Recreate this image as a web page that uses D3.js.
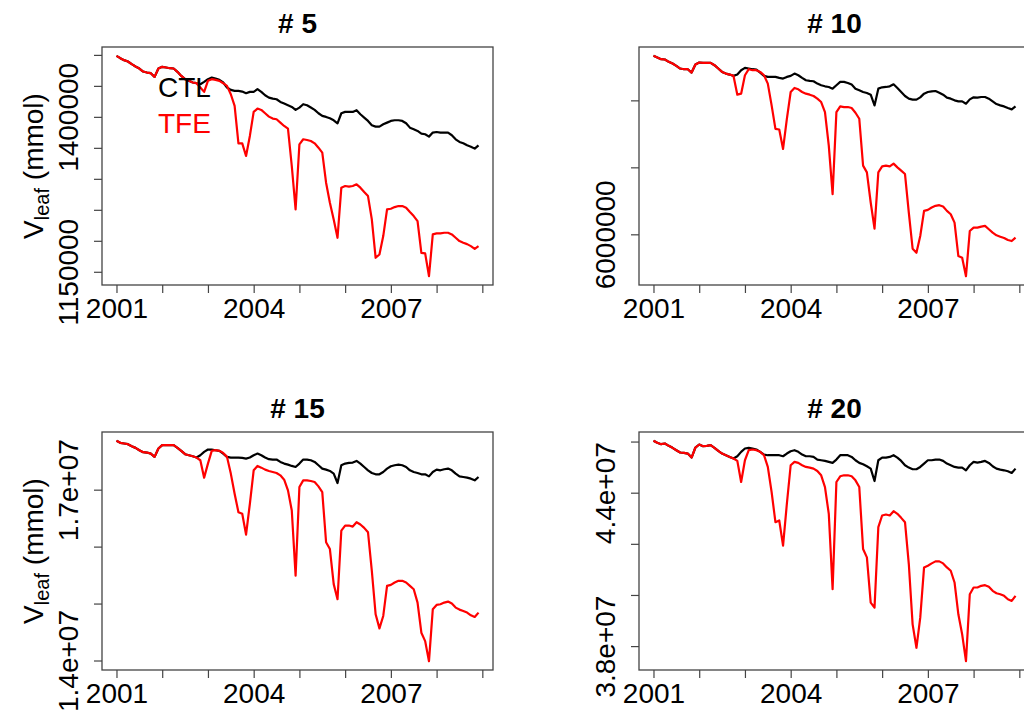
<!DOCTYPE html>
<html>
<head>
<meta charset="utf-8">
<script src="https://cdn.jsdelivr.net/npm/d3@7"></script>
<style>
  body { margin: 0; background: #fff; }
  svg { display: block; font-family: "Liberation Sans", Arial, Helvetica, sans-serif; }
</style>
</head>
<body>
<svg id="chart" width="1024" height="720"></svg>
<script>
// monthly values, Jan 2001 .. Dec 2008
const months = d3.range(96);
const xTicks = [2001, 2002, 2003, 2004, 2005, 2006, 2007, 2008, 2009];
const xTickText = [2001, 2004, 2007];

// # 5  (values in 1e3 mmol)
const early5 = [1498.5,1494.7,1491.5,1489.3,1485.0,1481.2,1478.0,1473.1,1471.5,1470.5,1464.5,1478.0,1480.7,1479.6,1478.5,1478.0,1472.6,1466.1,1460.8,1458.1,1455.4,1454.3];
const ctl5 = early5.concat([1452.7,1456.4,1460.8,1463.4,1461.8,1459.7,1455.4,1447.3,1443.5,1441.9,1441.9,1440.8,1438.1,1440.3,1440.3,1444.6,1440.3,1434.9,1431.1,1429.5,1428.4,1424.1,1421.4,1418.7,1416.0,1411.2,1415.0,1420.4,1418.7,1415.0,1411.2,1405.8,1401.5,1399.9,1397.7,1394.5,1389.6,1405.8,1408.0,1408.0,1408.0,1410.7,1404.2,1398.8,1393.4,1386.4,1384.3,1384.3,1388.0,1390.7,1393.4,1394.5,1394.5,1393.4,1389.6,1382.6,1380.0,1377.3,1373.0,1371.9,1368.1,1374.6,1375.6,1374.6,1374.6,1374.6,1370.3,1363.8,1359.5,1357.3,1354.1,1351.9,1348.7,1354.1]);
const tfe5 = early5.concat([1447.3,1440.3,1458.1,1460.8,1459.7,1458.1,1454.3,1450.0,1436.5,1417.7,1357.3,1357.3,1336.9,1369.2,1408.0,1413.4,1411.2,1405.8,1400.4,1397.2,1396.1,1390.7,1385.3,1381.0,1320.7,1250.7,1355.7,1363.8,1362.7,1361.1,1357.3,1350.3,1342.2,1293.8,1261.4,1234.5,1204.9,1285.7,1288.4,1287.3,1288.4,1291.1,1285.7,1278.7,1272.2,1234.5,1172.6,1177.9,1207.6,1250.7,1251.7,1254.4,1256.1,1256.1,1253.4,1246.4,1239.9,1231.8,1180.6,1179.6,1142.9,1210.3,1211.9,1211.9,1213.0,1213.0,1210.3,1204.9,1199.5,1196.8,1194.6,1191.4,1187.1,1191.4]);
const yTicks5 = [1150000,1200000,1250000,1300000,1350000,1400000,1450000,1500000];
const yTickAt5 = [1150000, 1400000];
const yTickText5 = ['1150000', '1400000'];

// # 10  (values in 1e3 mmol)
const early10 = [7332.5,7320,7307.5,7305,7287.5,7275,7257.5,7237.5,7232.5,7232.5,7207.5,7267.5,7282.5,7280,7280,7280,7262.5,7237.5,7212.5,7200,7192.5,7182.5];
const ctl10 = early10.concat([7192.5,7225,7242.5,7237.5,7232.5,7230,7207.5,7182.5,7175,7175,7175,7167.5,7162.5,7175,7182.5,7200,7187.5,7167.5,7150,7145,7142.5,7125,7112.5,7105,7100,7087.5,7112.5,7137.5,7137.5,7130,7117.5,7087.5,7075,7062.5,7055,7042.5,6962.5,7087.5,7097.5,7100,7105,7120,7092.5,7062.5,7032.5,7012.5,7005,7005,7022.5,7050,7062.5,7067.5,7070,7057.5,7042.5,7020,7012.5,7000,6992.5,6992.5,6975,7007.5,7022.5,7020,7025,7025,7012.5,6992.5,6972.5,6962.5,6955,6942.5,6932.5,6955]);
const tfe10 = early10.concat([7042.5,7050,7187.5,7232.5,7225,7225,7212.5,7187.5,7125,6962.5,6787.5,6782.5,6637.5,6862.5,7062.5,7092.5,7082.5,7062.5,7050,7042.5,7032.5,7012.5,6987.5,6912.5,6662.5,6300,6912.5,6955,6950,6950,6942.5,6907.5,6862.5,6512.5,6462.5,6237.5,6042.5,6462.5,6507.5,6512.5,6507.5,6527.5,6500,6475,6450,6162.5,5892.5,5862.5,5987.5,6175,6182.5,6200,6212.5,6217.5,6207.5,6175,6150,6087.5,5837.5,5825,5687.5,6025,6050,6050,6057.5,6062.5,6037.5,6012.5,5992.5,5982.5,5972.5,5957.5,5950,5975]);
const yTicks10 = [6000000, 6500000, 7000000];
const yTickAt10 = [6000000];
const yTickText10 = ['6000000'];

// # 15  (values in 1e6 mmol)
const early15 = [17.858,17.823,17.811,17.799,17.764,17.734,17.693,17.658,17.652,17.634,17.576,17.723,17.782,17.782,17.782,17.782,17.734,17.682,17.623,17.605,17.587,17.564];
const ctl15 = early15.concat([17.605,17.664,17.705,17.705,17.693,17.682,17.634,17.576,17.564,17.564,17.564,17.558,17.546,17.564,17.605,17.634,17.605,17.564,17.535,17.529,17.529,17.487,17.458,17.440,17.417,17.399,17.458,17.529,17.529,17.517,17.487,17.429,17.370,17.352,17.329,17.282,17.117,17.429,17.458,17.470,17.476,17.505,17.458,17.399,17.340,17.293,17.270,17.270,17.311,17.370,17.411,17.429,17.440,17.429,17.399,17.340,17.311,17.293,17.270,17.270,17.234,17.311,17.352,17.340,17.358,17.370,17.340,17.282,17.234,17.223,17.211,17.193,17.164,17.223]);
const tfe15 = early15.concat([17.517,17.211,17.458,17.682,17.693,17.682,17.646,17.576,17.282,16.929,16.605,16.576,16.211,16.752,17.340,17.417,17.387,17.352,17.329,17.311,17.293,17.252,17.176,16.988,16.635,15.488,17.046,17.164,17.164,17.152,17.135,17.058,16.958,16.076,15.958,15.341,15.076,16.282,16.370,16.370,16.352,16.429,16.388,16.329,16.252,15.576,14.811,14.564,14.782,15.311,15.329,15.370,15.399,15.399,15.370,15.311,15.252,15.017,14.488,14.341,13.988,14.899,14.976,14.988,15.017,15.035,15.000,14.929,14.894,14.870,14.841,14.794,14.764,14.841]);
const yTicks15 = [1.4e7, 1.5e7, 1.6e7, 1.7e7];
const yTickAt15 = [1.4e7, 1.7e7];
const yTickText15 = ['1.4e+07', '1.7e+07'];

// # 20  (values in 1e6 mmol)
const early20 = [46.029,45.950,45.898,45.924,45.833,45.754,45.662,45.571,45.557,45.531,45.374,45.767,45.885,45.819,45.833,45.859,45.754,45.636,45.531,45.466,45.400,45.335];
const ctl20 = early20.concat([45.426,45.597,45.728,45.754,45.728,45.688,45.597,45.492,45.466,45.466,45.466,45.466,45.426,45.531,45.623,45.662,45.597,45.492,45.426,45.426,45.400,45.295,45.269,45.243,45.204,45.165,45.295,45.466,45.466,45.466,45.400,45.269,45.165,45.112,45.034,44.942,44.457,45.269,45.374,45.374,45.400,45.466,45.374,45.243,45.073,44.981,44.916,44.916,45.007,45.138,45.269,45.269,45.295,45.295,45.243,45.138,45.073,45.007,44.981,44.981,44.876,45.073,45.204,45.178,45.204,45.243,45.165,45.034,44.942,44.903,44.876,44.837,44.772,44.942]);
const tfe20 = early20.concat([45.243,44.418,45.269,45.662,45.688,45.662,45.597,45.466,45.007,44.025,42.846,42.912,41.929,43.567,45.073,45.204,45.165,45.073,45.007,44.981,44.942,44.850,44.680,44.221,43.174,40.227,44.418,44.641,44.680,44.680,44.641,44.483,44.221,41.798,41.471,39.703,39.506,42.650,43.108,43.147,43.108,43.278,43.174,43.016,42.846,41.209,38.851,37.934,39.113,41.078,41.143,41.235,41.314,41.314,41.235,41.078,40.947,40.488,39.244,38.458,37.410,40.030,40.292,40.292,40.358,40.384,40.318,40.161,40.069,40.030,39.965,39.834,39.768,39.965]);
const yTicks20 = [3.8e7, 4.0e7, 4.2e7, 4.4e7, 4.6e7];
const yTickAt20 = [3.8e7, 4.4e7];
const yTickText20 = ['3.8e+07', '4.4e+07'];

const legendNames = ['CTL', 'TFE'];
const seriesColors = ['#000000', '#ff0000'];

const panels = [
  {title: '# 5',  ctl: ctl5,  tfe: tfe5,  unit: 1e3, ticks: yTicks5,  at: yTickAt5,  text: yTickText5,  left: 102, top: 47,  ylab: true,  legend: true},
  {title: '# 10', ctl: ctl10, tfe: tfe10, unit: 1e3, ticks: yTicks10, at: yTickAt10, text: yTickText10, left: 639, top: 47,  ylab: false, legend: false},
  {title: '# 15', ctl: ctl15, tfe: tfe15, unit: 1e6, ticks: yTicks15, at: yTickAt15, text: yTickText15, left: 102, top: 432, ylab: true,  legend: false},
  {title: '# 20', ctl: ctl20, tfe: tfe20, unit: 1e6, ticks: yTicks20, at: yTickAt20, text: yTickText20, left: 639, top: 432, ylab: false, legend: false}
];

const W = 391, H = 238, FS = 28;
const svg = d3.select('#chart');
svg.append('rect').attr('width', 1024).attr('height', 720).attr('fill', '#fff');

// R style axis range: data extent plus 4% on each side
function padR(ext) {
  const d = (ext[1] - ext[0]) * 0.04;
  return [ext[0] - d, ext[1] + d];
}

panels.forEach(p => {
  const g = svg.append('g').attr('transform', 'translate(' + p.left + ',' + p.top + ')');
  const ctl = p.ctl.map((v, i) => ({t: 2001 + months[i] / 12, v: v * p.unit}));
  const tfe = p.tfe.map((v, i) => ({t: 2001 + months[i] / 12, v: v * p.unit}));

  const x = d3.scaleLinear()
    .domain(padR(d3.extent(ctl, d => d.t)))
    .range([0, W]);
  const y = d3.scaleLinear()
    .domain(padR(d3.extent(ctl.concat(tfe), d => d.v)))
    .range([H, 0]);

  const line = d3.line().x(d => x(d.t)).y(d => y(d.v));

  [ctl, tfe].forEach((s, i) => {
    g.append('path')
      .datum(s)
      .attr('d', line)
      .attr('fill', 'none')
      .attr('stroke', seriesColors[i])
      .attr('stroke-width', 2.2)
      .attr('stroke-linejoin', 'round');
  });

  // x axis
  const xAxis = d3.axisBottom(x)
    .tickValues(xTicks)
    .tickSize(8)
    .tickSizeOuter(0)
    .tickFormat(d => xTickText.includes(d) ? d : '');
  const gx = g.append('g').attr('transform', 'translate(0,' + H + ')').call(xAxis);
  gx.select('.domain').remove();
  gx.selectAll('line').attr('stroke', '#444').attr('stroke-width', 1.2);
  gx.selectAll('text')
    .attr('y', 33).attr('dy', 0)
    .attr('font-size', FS)
    .attr('font-family', '"Liberation Sans", Arial, sans-serif')
    .attr('fill', '#000');

  // y axis
  const yAxis = d3.axisLeft(y)
    .tickValues(p.ticks)
    .tickSize(8)
    .tickSizeOuter(0)
    .tickFormat(d => {
      const k = p.at.indexOf(d);
      return k >= 0 ? p.text[k] : '';
    });
  const gy = g.append('g').call(yAxis);
  gy.select('.domain').remove();
  gy.selectAll('line').attr('stroke', '#444').attr('stroke-width', 1.2);
  gy.selectAll('text')
    .attr('x', 0).attr('y', 0).attr('dy', 0)
    .attr('transform', 'translate(-24,0) rotate(-90)')
    .attr('text-anchor', 'middle')
    .attr('font-size', FS)
    .attr('font-family', '"Liberation Sans", Arial, sans-serif')
    .attr('fill', '#000');

  // box
  g.append('rect')
    .attr('width', W).attr('height', H)
    .attr('fill', 'none')
    .attr('stroke', '#444')
    .attr('stroke-width', 1.3);

  // title
  g.append('text')
    .attr('x', W / 2).attr('y', -14)
    .attr('text-anchor', 'middle')
    .attr('font-size', FS)
    .attr('font-weight', 'bold')
    .text(p.title);

  if (p.ylab) {
    const t = svg.append('text')
      .attr('transform', 'translate(43,' + (p.top + H / 2) + ') rotate(-90)')
      .attr('text-anchor', 'middle')
      .attr('font-size', FS);
    t.append('tspan').text('V');
    t.append('tspan').attr('font-size', 20).attr('dy', 6).text('leaf');
    t.append('tspan').attr('dy', -6).text(' (mmol)');
  }

  if (p.legend) {
    legendNames.forEach((n, i) => {
      g.append('text')
        .attr('x', 56).attr('y', 50 + i * 36)
        .attr('font-size', FS)
        .attr('fill', seriesColors[i])
        .text(n);
    });
  }
});
</script>
</body>
</html>
